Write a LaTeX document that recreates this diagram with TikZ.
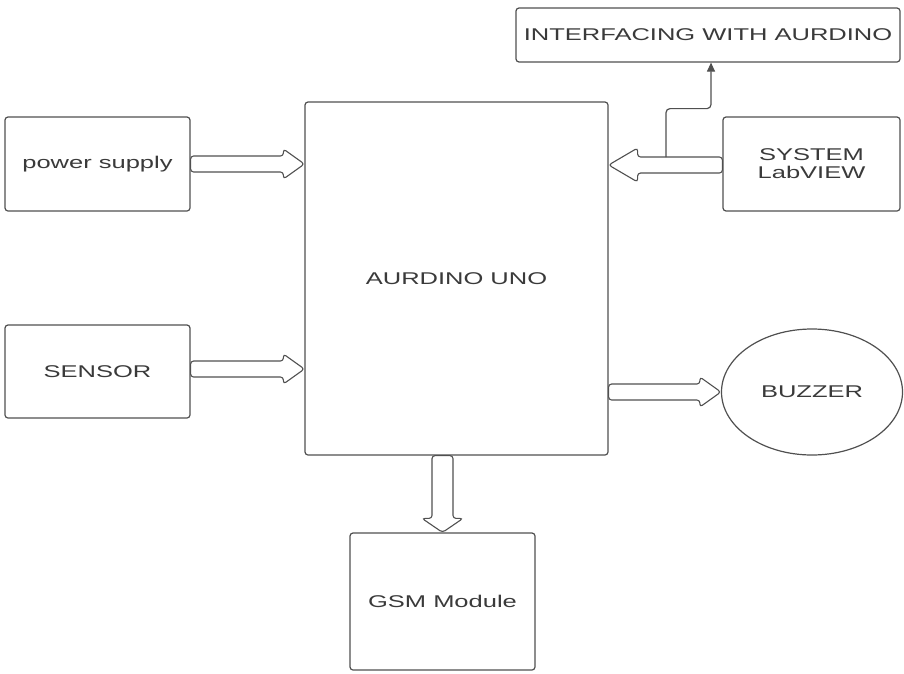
\documentclass[tikz,border=0pt]{standalone}
\usepackage{fontspec}
\setmainfont{Liberation Sans}[FakeStretch=1.5]
\usetikzlibrary{calc,arrows.meta,shapes.geometric}
\definecolor{lc}{HTML}{505050}
\definecolor{tc}{HTML}{3A3A3A}
\tikzset{
  box/.style={draw=lc, line width=1.2pt, rounded corners=3pt, text=tc, align=center,
    inner sep=0pt, font=\fontsize{17}{20}\selectfont},
  blk/.style={draw=lc, line width=1.1pt, fill=white, rounded corners=3pt},
  thin/.style={draw=lc, line width=1.2pt, rounded corners=4pt, -{Triangle[length=9pt,width=8pt]}}
}
\newcommand\rightblk[3]{% start, end, y-offset
  \draw[blk] let \p1=($(#1)+(0,#3)$), \p2=($(#2)+(0,#3)$) in
    (\x1,\y1-8) -- (\x2-21,\y1-8) -- (\x2-21,\y1-15) -- (\x2,\y1) --
    (\x2-21,\y1+15) -- (\x2-21,\y1+8) -- (\x1,\y1+8) -- cycle;}
\newcommand\leftblk[3]{%
  \draw[blk] let \p1=($(#1)+(0,#3)$), \p2=($(#2)+(0,#3)$) in
    (\x1,\y1-8) -- (\x2+29,\y1-8) -- (\x2+29,\y1-17) -- (\x2,\y1) --
    (\x2+29,\y1+17) -- (\x2+29,\y1+8) -- (\x1,\y1+8) -- cycle;}
\begin{document}
\begin{tikzpicture}[x=1pt,y=-1pt]
\useasboundingbox (0,0) rectangle (904,673);
\fill[white] (0,0) rectangle (904,673);

\node[box, minimum width=185pt, minimum height=94pt] (ps) at (97.5,164) {power supply};
\node[box, minimum width=185pt, minimum height=93pt] (sen) at (97.5,371.5) {SENSOR};
\node[box, minimum width=303pt, minimum height=353pt] (ard) at (456.5,278.5) {AURDINO UNO};
\node[box, minimum width=185pt, minimum height=137pt] (gsm) at (442.5,601.5) {GSM Module};
\node[box, minimum width=384pt, minimum height=54pt] (inter) at (708,35) {INTERFACING WITH AURDINO};
\node[box, minimum width=177pt, minimum height=94pt] (lab) at (811.5,164) {SYSTEM\\[-2pt]LabVIEW};
\node[box, ellipse, rounded corners=0pt, minimum width=181pt, minimum height=126pt] (buz) at (812,392) {BUZZER};

% block arrows
\rightblk{ps.east}{ps.east -| ard.west}{0}
\rightblk{sen.east}{sen.east -| ard.west}{-2.5}
\rightblk{ard.east |- buz.west}{buz.west}{0}
\leftblk{lab.west}{lab.west -| ard.east}{1}

\draw[blk] let \p1=($(ard.south)+(-14,0)$), \p2=(gsm.north -| \p1) in
  (\x1-10.5,\y1) -- (\x1-10.5,\y2+14) -- (\x1-20.5,\y2+14) -- (\x2,\y2) --
  (\x1+20.5,\y2+14) -- (\x1+10.5,\y2+14) -- (\x1+10.5,\y1) -- cycle;

% thin connector
\coordinate (tap) at (666,157);
\draw[thin] (tap) |- ($(inter.south)+(3,46)$) -- ($(inter.south)+(3,0)$);
\end{tikzpicture}
\end{document}
